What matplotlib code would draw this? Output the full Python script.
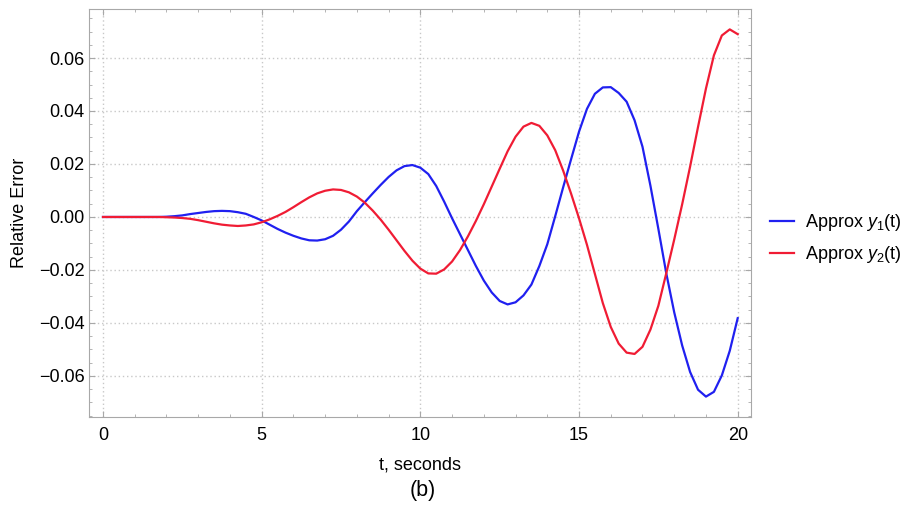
import matplotlib
matplotlib.use('Agg')
import matplotlib.pyplot as plt
from matplotlib.ticker import MultipleLocator

plt.rcParams['font.family'] = ['Liberation Sans', 'DejaVu Sans']
plt.rcParams['mathtext.fontset'] = 'custom'
plt.rcParams['mathtext.rm'] = 'Liberation Sans'
plt.rcParams['mathtext.it'] = 'Liberation Sans:italic'

# values, every 0.25 s
t = [0, 0.25, 0.5, 0.75, 1, 1.25, 1.5, 1.75,
     2, 2.25, 2.5, 2.75, 3, 3.25, 3.5, 3.75,
     4, 4.25, 4.5, 4.75, 5, 5.25, 5.5, 5.75,
     6, 6.25, 6.5, 6.75, 7, 7.25, 7.5, 7.75,
     8, 8.25, 8.5, 8.75, 9, 9.25, 9.5, 9.75,
     10, 10.25, 10.5, 10.75, 11, 11.25, 11.5, 11.75,
     12, 12.25, 12.5, 12.75, 13, 13.25, 13.5, 13.75,
     14, 14.25, 14.5, 14.75, 15, 15.25, 15.5, 15.75,
     16, 16.25, 16.5, 16.75, 17, 17.25, 17.5, 17.75,
     18, 18.25, 18.5, 18.75, 19, 19.25, 19.5, 19.75,
     20]

y1 = [0, 0, 0, 0, 0, 0, 0, 0,
      0.0001, 0.0003, 0.0006, 0.0011, 0.0015, 0.0019, 0.0022, 0.0023,
      0.0022, 0.0018, 0.0012, 0.0000, -0.0013, -0.0029, -0.0045, -0.0059,
      -0.0071, -0.0081, -0.0088, -0.0089, -0.0084, -0.0071, -0.0048, -0.0017,
      0.0022, 0.0056, 0.0089, 0.0121, 0.0151, 0.0176, 0.0192, 0.0196,
      0.0186, 0.0162, 0.0117, 0.0058, -0.0005, -0.0065, -0.0125, -0.0185,
      -0.024, -0.0285, -0.0317, -0.033, -0.0322, -0.0296, -0.0255, -0.0185,
      -0.0103, 0.0003, 0.0112, 0.0218, 0.0322, 0.0408, 0.0465, 0.0489,
      0.049, 0.0468, 0.0435, 0.0365, 0.0265, 0.0118, -0.0045, -0.0213,
      -0.036, -0.0485, -0.0585, -0.0652, -0.0678, -0.066, -0.0598, -0.0505,
      -0.0382]

y2 = [0, 0, 0, 0, 0, 0, 0, 0,
      -0.0001, -0.0002, -0.0004, -0.0007, -0.0012, -0.0018, -0.0024, -0.0029,
      -0.0032, -0.0034, -0.0032, -0.0028, -0.002, -0.0009, 0.0004, 0.0019,
      0.0037, 0.0056, 0.0074, 0.0089, 0.0099, 0.0104, 0.0102, 0.0093,
      0.0077, 0.0054, 0.0024, -0.001, -0.0048, -0.0088, -0.0128, -0.0165,
      -0.0195, -0.0213, -0.0214, -0.0198, -0.0168, -0.0125, -0.0073, -0.0015,
      0.0048, 0.0115, 0.0182, 0.0248, 0.0303, 0.0341, 0.0355, 0.0344,
      0.0308, 0.0252, 0.0175, 0.0088, -0.0005, -0.0105, -0.0215, -0.0325,
      -0.0415, -0.0478, -0.0512, -0.0517, -0.049, -0.0425, -0.0335, -0.0212,
      -0.0085, 0.0048, 0.019, 0.034, 0.0485, 0.061, 0.0685, 0.0708,
      0.069]

labels = [r'Approx $y_1$(t)', r'Approx $y_2$(t)']
colors = ['#2020f0', '#f01c34']

fig = plt.figure(figsize=(9.14, 5.08), dpi=100)
ax = fig.add_axes([0.0974, 0.1791, 0.7243, 0.8032])

ax.plot(t, y1, color=colors[0], lw=1.6, label=labels[0])
ax.plot(t, y2, color=colors[1], lw=1.6, label=labels[1])

ax.set_xlim(-0.44, 20.42)
ax.set_ylim(-0.0755, 0.0785)
ax.xaxis.set_major_locator(MultipleLocator(5))
ax.xaxis.set_minor_locator(MultipleLocator(1))
ax.yaxis.set_major_locator(MultipleLocator(0.02))
ax.yaxis.set_minor_locator(MultipleLocator(0.005))
ax.yaxis.set_major_formatter(lambda v, p: f'{v:.2f}'.replace('-', '\u2212'))

ax.grid(True, which='major', color='#c8c8c8', ls=(0, (1, 2)), lw=1)
for s in ax.spines.values():
    s.set_color('#a8a8a8')
ax.tick_params(which='both', direction='in', top=True, right=True,
               color='#a8a8a8', labelsize=13)
ax.tick_params(axis='y', pad=3)
ax.tick_params(axis='x', pad=7)
ax.tick_params(which='major', length=4)
ax.tick_params(which='minor', length=2.5)

ax.set_xlabel('t, seconds', fontsize=13, labelpad=9)
ax.set_ylabel('Relative Error', fontsize=13, labelpad=8)
fig.text(0.463, 0.035, '(b)', fontsize=15.5, ha='center', va='center')

fig.legend(loc='center left', bbox_to_anchor=(0.842, 0.53), frameon=False,
           fontsize=13, handlelength=1.35, handletextpad=0.6,
           labelspacing=0.6, borderaxespad=0, borderpad=0)

fig.savefig('out.png', dpi=100)
